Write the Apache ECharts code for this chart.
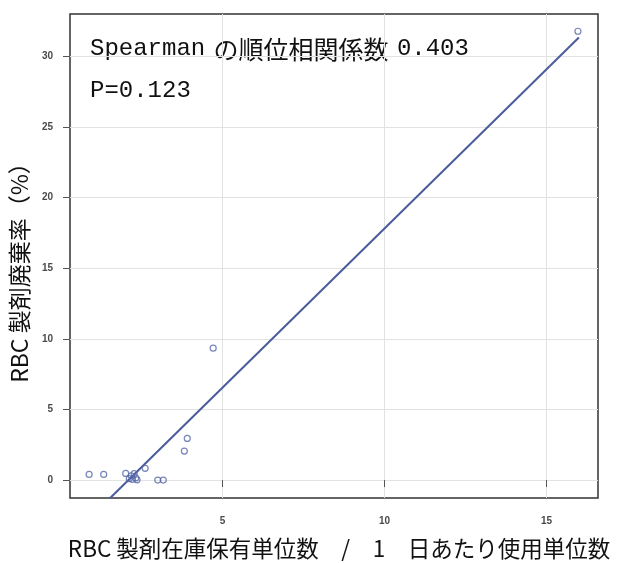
<!DOCTYPE html>
<html>
<head>
<meta charset="utf-8">
<script src="https://cdn.jsdelivr.net/npm/echarts@6/dist/echarts.min.js"></script>
<style>
  html, body { margin: 0; padding: 0; background: #fff; }
  #chart { width: 618px; height: 563px; }
</style>
</head>
<body>
<div id="chart"></div>
<script>
// Inventory ratio (stock units / daily usage) vs. RBC discard rate (%)
const stockRatio = [0.88, 1.33, 2.01, 2.12, 2.18, 2.22, 2.27, 2.32, 2.36, 2.61, 3.00, 3.17, 3.82, 3.91, 4.71, 15.97];
const discardRate = [0.40, 0.40, 0.47, 0.10, 0.30, 0.05, 0.45, 0.15, 0.02, 0.83, 0.00, 0.00, 2.05, 2.95, 9.34, 31.78];

// Fitted regression line end points (x, y)
const fitX = [1.53, 16.0];
const fitY = [-1.27, 31.33];

// Axis ticks
const xTicks = [5, 10, 15];
const yTicks = [0, 5, 10, 15, 20, 25, 30];

// Statistics annotation pieces
const statName = 'Spearman';
const statLabel = 'の順位相関係数';
const rhoValue = '0.403';
const pValueText = 'P=0.123';
const xTitle = 'RBC 製剤在庫保有単位数　/　1　日あたり使用単位数';
const yTitle = 'RBC 製剤廃棄率（%）';

const points = stockRatio.map((x, i) => [x, discardRate[i]]);
const fitLine = fitX.map((x, i) => [x, fitY[i]]);

const tickLabel = {
  fontSize: 10,
  fontWeight: 'bold',
  color: '#4a4a4a',
  fontFamily: 'Liberation Sans, Arial, sans-serif'
};
const cjkFont = "'Noto Sans CJK JP', sans-serif";
const monoFont = "'Liberation Mono', 'Noto Sans CJK JP', monospace";

const chart = echarts.init(document.getElementById('chart'), null, { renderer: 'canvas' });
chart.setOption({
  animation: false,
  backgroundColor: '#ffffff',
  grid: {
    left: 70, right: 20, top: 14, bottom: 65,
    outerBoundsMode: 'none',
    containLabel: false,
    show: true,
    borderColor: '#333333',
    borderWidth: 1.5,
    backgroundColor: 'transparent'
  },
  xAxis: {
    type: 'value',
    min: 0.29, max: 16.59,
    axisLine: { show: false },
    axisTick: { show: true, customValues: xTicks, length: 7, lineStyle: { color: '#555', width: 1 } },
    axisLabel: Object.assign({ customValues: xTicks, margin: 18 }, tickLabel),
    splitLine: { show: true, lineStyle: { color: '#e2e2e2', width: 1 } },
    name: xTitle,
    nameLocation: 'middle',
    nameGap: 39,
    nameTextStyle: { fontSize: 22.5, color: '#111', fontFamily: cjkFont, padding: [0, 0, 0, 10] }
  },
  yAxis: {
    type: 'value',
    min: -1.27, max: 33.0,
    axisLine: { show: false },
    axisTick: { show: true, customValues: yTicks, length: 7, lineStyle: { color: '#555', width: 1 } },
    axisLabel: Object.assign({ customValues: yTicks, margin: 17 }, tickLabel),
    splitLine: { show: true, lineStyle: { color: '#e2e2e2', width: 1 } },
    name: yTitle,
    nameLocation: 'middle',
    nameGap: 31,
    nameRotate: 90,
    nameTextStyle: { fontSize: 23, color: '#111', fontFamily: cjkFont, padding: [0, 22, 0, 0] }
  },
  series: [
    {
      type: 'line',
      data: fitLine,
      showSymbol: false,
      symbol: 'none',
      clip: true,
      lineStyle: { color: '#4a5c9c', width: 2 },
      z: 2
    },
    {
      type: 'scatter',
      data: points,
      symbol: 'circle',
      symbolSize: 6,
      itemStyle: { color: 'rgba(255,255,255,0)', borderColor: '#5566a6', borderWidth: 1.2 },
      z: 3
    }
  ],
  graphic: [
    {
      type: 'text', left: 90, top: 34,
      style: {
        text: '{m|' + statName + '}{s| }{j|' + statLabel + '}{s| }{m|' + rhoValue + '}',
        rich: {
          m: { fontSize: 24, fontFamily: monoFont, fill: '#111', color: '#111' },
          s: { fontSize: 30, fontFamily: 'Liberation Sans, sans-serif' },
          j: { fontSize: 25, fontFamily: cjkFont, fill: '#111', color: '#111' }
        }
      }
    },
    {
      type: 'text', left: 90, top: 79,
      style: { text: pValueText, fontSize: 24, fontFamily: monoFont, fill: '#111' }
    }
  ]
});
</script>
</body>
</html>
